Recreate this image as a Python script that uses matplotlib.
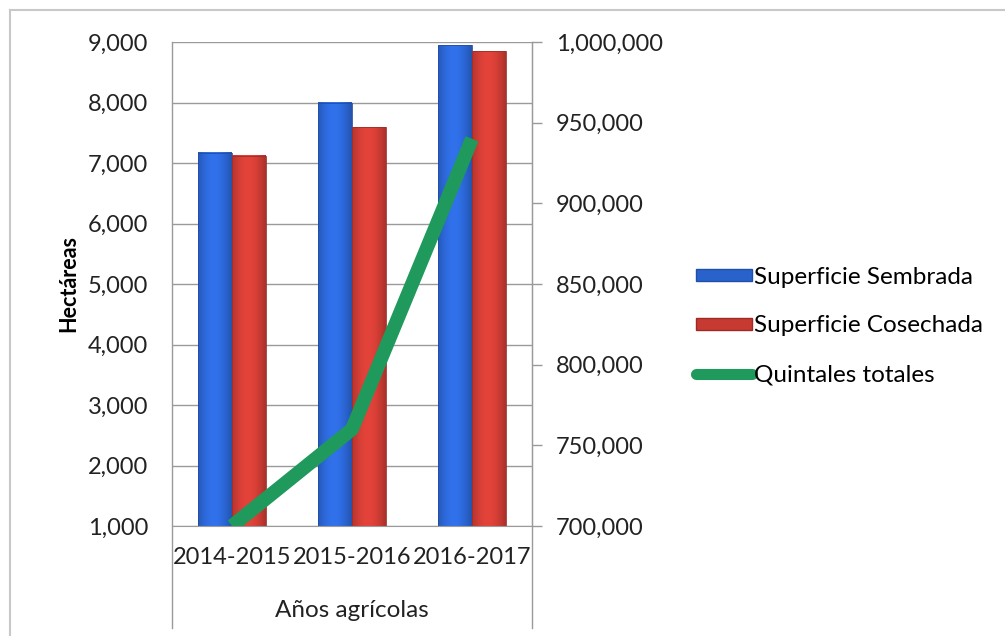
import numpy as np
import matplotlib.pyplot as plt
from matplotlib.lines import Line2D
from matplotlib.patches import Patch, Rectangle

plt.rcParams['font.family'] = ['Lato', 'DejaVu Sans']

# Data
years = ['2014-2015', '2015-2016', '2016-2017']
sembrada = [7170, 8000, 8950]
cosechada = [7120, 7590, 8850]
quintales = [700000, 760000, 940000]

blue = '#2a62cc'
red = '#c63a32'
green = '#1f9a5c'

fig = plt.figure(figsize=(10.05, 6.36), dpi=100)
W, H = 1005, 636
ax = fig.add_axes([172 / W, 1 - 526 / H, 360 / W, 484 / H])

x = np.arange(len(years))
bw = 0.28


def shaded_bar(ax, x0, h, color):
    # cylinder-like shading, roughly like the Excel bevel
    grad = np.linspace(0, 1, 64)
    shade = 0.8 + 0.35 * np.sin(np.pi * (grad * 0.85 + 0.1))
    base = np.array(plt.matplotlib.colors.to_rgb(color))
    img = np.clip(base[None, :] * shade[:, None], 0, 1)[None, :, :]
    ax.imshow(img, extent=[x0, x0 + bw, 1000, h], aspect='auto', zorder=2,
              interpolation='bilinear')
    ax.add_patch(Rectangle((x0, 1000), bw, h - 1000, fill=False,
                           edgecolor=base * 0.8, lw=0.6, zorder=2))


for i in range(len(years)):
    shaded_bar(ax, x[i] - bw, sembrada[i], blue)
    shaded_bar(ax, x[i], cosechada[i], red)

ax.set_xlim(-0.5, 2.5)
ax.set_ylim(1000, 9000)
ax.set_yticks(range(1000, 9001, 1000))
ax.set_yticklabels([f'{v:,}' for v in range(1000, 9001, 1000)])
ax.yaxis.grid(True, color='#9a9a9a', lw=1)
ax.set_axisbelow(True)
ax.set_xticks(x)
ax.set_xticklabels(years)
ax.tick_params(axis='x', length=0, labelsize=17, pad=15, colors='#222222')
ax.tick_params(axis='y', length=0, labelsize=17, pad=17, colors='#222222')
for s in ['top', 'right', 'left']:
    ax.spines[s].set_visible(False)
ax.spines['bottom'].set_color('#9a9a9a')
ax.set_ylabel('Hectáreas', fontsize=15.5, fontweight='bold', labelpad=6)
ax.set_xlabel('Años agrícolas', fontsize=17.5, labelpad=23, color='#222222')

ax2 = ax.twinx()
ax2.plot(x, quintales, color=green, lw=10, solid_capstyle='butt', zorder=5)
ax2.set_ylim(700000, 1000000)
ax2.set_yticks(range(700000, 1000001, 50000))
ax2.set_yticklabels([f'{v:,}' for v in range(700000, 1000001, 50000)])
ax2.tick_params(axis='y', direction='out', length=7, width=1, color='#9a9a9a',
                labelsize=17, pad=10, labelcolor='#222222')
for s in ['top', 'left', 'bottom']:
    ax2.spines[s].set_visible(False)
ax2.spines['right'].set_color('#9a9a9a')

# frame lines extending below the plot area, like the reference
for xp in (172, 532):
    fig.add_artist(Line2D([xp / W, xp / W], [1 - 42 / H, 1 - 628 / H],
                          color='#9a9a9a', lw=1))
fig.add_artist(Line2D([10 / W, 1], [1 - 10 / H, 1 - 10 / H], color='#c8c8c8', lw=1.5))
fig.add_artist(Line2D([10 / W, 10 / W], [1 - 10 / H, 0], color='#c8c8c8', lw=1.5))

handles = [Patch(facecolor=blue, edgecolor='#1f4fa8'),
           Patch(facecolor=red, edgecolor='#9e2a24'),
           Line2D([0], [0], color=green, lw=8, solid_capstyle='round')]
labels = ['Superficie Sembrada', 'Superficie Cosechada', 'Quintales totales']
fig.legend(handles, labels, loc='center left', bbox_to_anchor=(684 / W, 1 - 326 / H),
           frameon=False, fontsize=17.5, handlelength=2.3, handletextpad=0.1,
           labelspacing=1.15, handleheight=0.4, borderpad=0)

fig.savefig('out.png', dpi=100)
